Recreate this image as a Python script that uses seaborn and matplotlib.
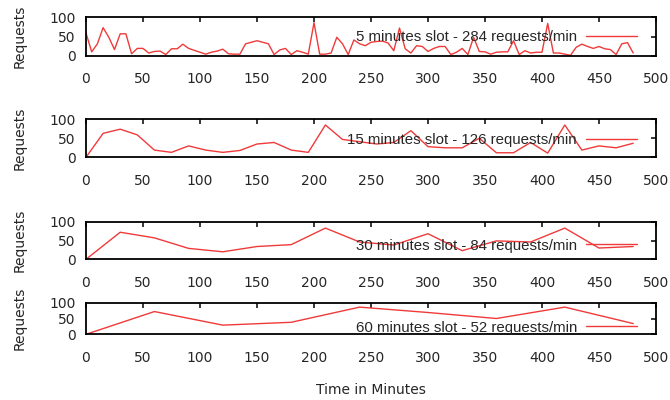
import numpy as np
import pandas as pd
import seaborn as sns
import matplotlib.pyplot as plt

# values (requests per slot)
minutes_5 = np.arange(0, 485, 5)
requests_5 = [59, 10, 31, 73, 48, 16, 57, 57, 5, 19,
              19, 7, 11, 12, 3, 18, 18, 30, 19, 14,
              9, 4, 9, 12, 17, 5, 4, 4, 31, 35,
              39, 35, 31, 3, 15, 19, 3, 13, 9, 4,
              86, 4, 4, 7, 48, 31, 3, 41, 31, 26,
              35, 37, 38, 33, 13, 72, 18, 7, 26, 24,
              11, 19, 24, 24, 3, 9, 19, 3, 48, 11,
              10, 4, 9, 10, 10, 39, 3, 13, 7, 9,
              9, 84, 7, 7, 4, 1, 22, 30, 24, 19,
              24, 18, 16, 3, 31, 34, 7]

minutes_15 = np.arange(0, 495, 15)
requests_15 = [0, 63, 74, 59, 19, 13, 30, 19, 13, 18, 35, 39, 19, 13, 85, 47, 41,
               35, 39, 70, 28, 25, 25, 50, 12, 12, 39, 11, 85, 19, 30, 25, 37]

minutes_30 = np.arange(0, 510, 30)
requests_30 = [0, 72, 57, 29, 20, 34, 39, 83, 46, 38, 68, 23, 49, 46, 83, 30, 34]

minutes_60 = np.arange(0, 540, 60)
requests_60 = [0, 72, 29, 38, 86, 69, 50, 86, 34]

labels = ["5 minutes slot - 284 requests/min",
          "15 minutes slot - 126 requests/min",
          "30 minutes slot - 84 requests/min",
          "60 minutes slot - 52 requests/min"]

series = [(minutes_5, requests_5), (minutes_15, requests_15),
          (minutes_30, requests_30), (minutes_60, requests_60)]

sns.set_style("white")
plt.rcParams['font.family'] = ['DejaVu Sans']

fig = plt.figure(figsize=(6.7, 4), dpi=100)

# axes boxes in pixels: (top, bottom)
boxes = [(17.3, 55.7), (119.3, 157.3), (221.7, 259.3), (302.7, 334.3)]
key_drop = [20, 21, 24, 25]
left, right = 86, 656

for (mins, reqs), label, (top, bot), drop in zip(series, labels, boxes, key_drop):
    h = bot - top
    ax = fig.add_axes([left / 670, 1 - bot / 400, (right - left) / 670, h / 400])
    df = pd.DataFrame({"minute": mins, "requests": reqs})
    sns.lineplot(data=df, x="minute", y="requests", ax=ax, color="#f03a3a",
                 linewidth=1.0, label=label)
    ax.set_xlim(0, 500)
    ax.set_ylim(0, 100)
    ax.set_xticks(range(0, 501, 50))
    ax.set_yticks([0, 50, 100])
    ax.tick_params(axis="x", direction="in", length=3.3, width=1.1, top=True,
                   pad=12, labelsize=10, color="black")
    ax.tick_params(axis="y", direction="in", length=3.3, width=1.1, right=True,
                   pad=7.5, labelsize=10, color="black")
    for sp in ax.spines.values():
        sp.set_color("black")
        sp.set_linewidth(1.3)
    ax.set_xlabel("")
    ax.set_ylabel("Requests", fontsize=10)
    ax.yaxis.set_label_coords(-0.105, 0.5)
    ax.legend(loc="center right", bbox_to_anchor=((637 - left) / (right - left), 1 - drop / h),
              frameon=False, markerfirst=False, handlelength=3.4, handletextpad=0.6,
              borderpad=0, borderaxespad=0,
              prop={"family": "Liberation Sans", "size": 10.8})

fig.text((left + right) / 2 / 670, 1 - 390 / 400, "Time in Minutes",
         ha="center", va="center", fontsize=10)

fig.savefig("out.png", dpi=100)
